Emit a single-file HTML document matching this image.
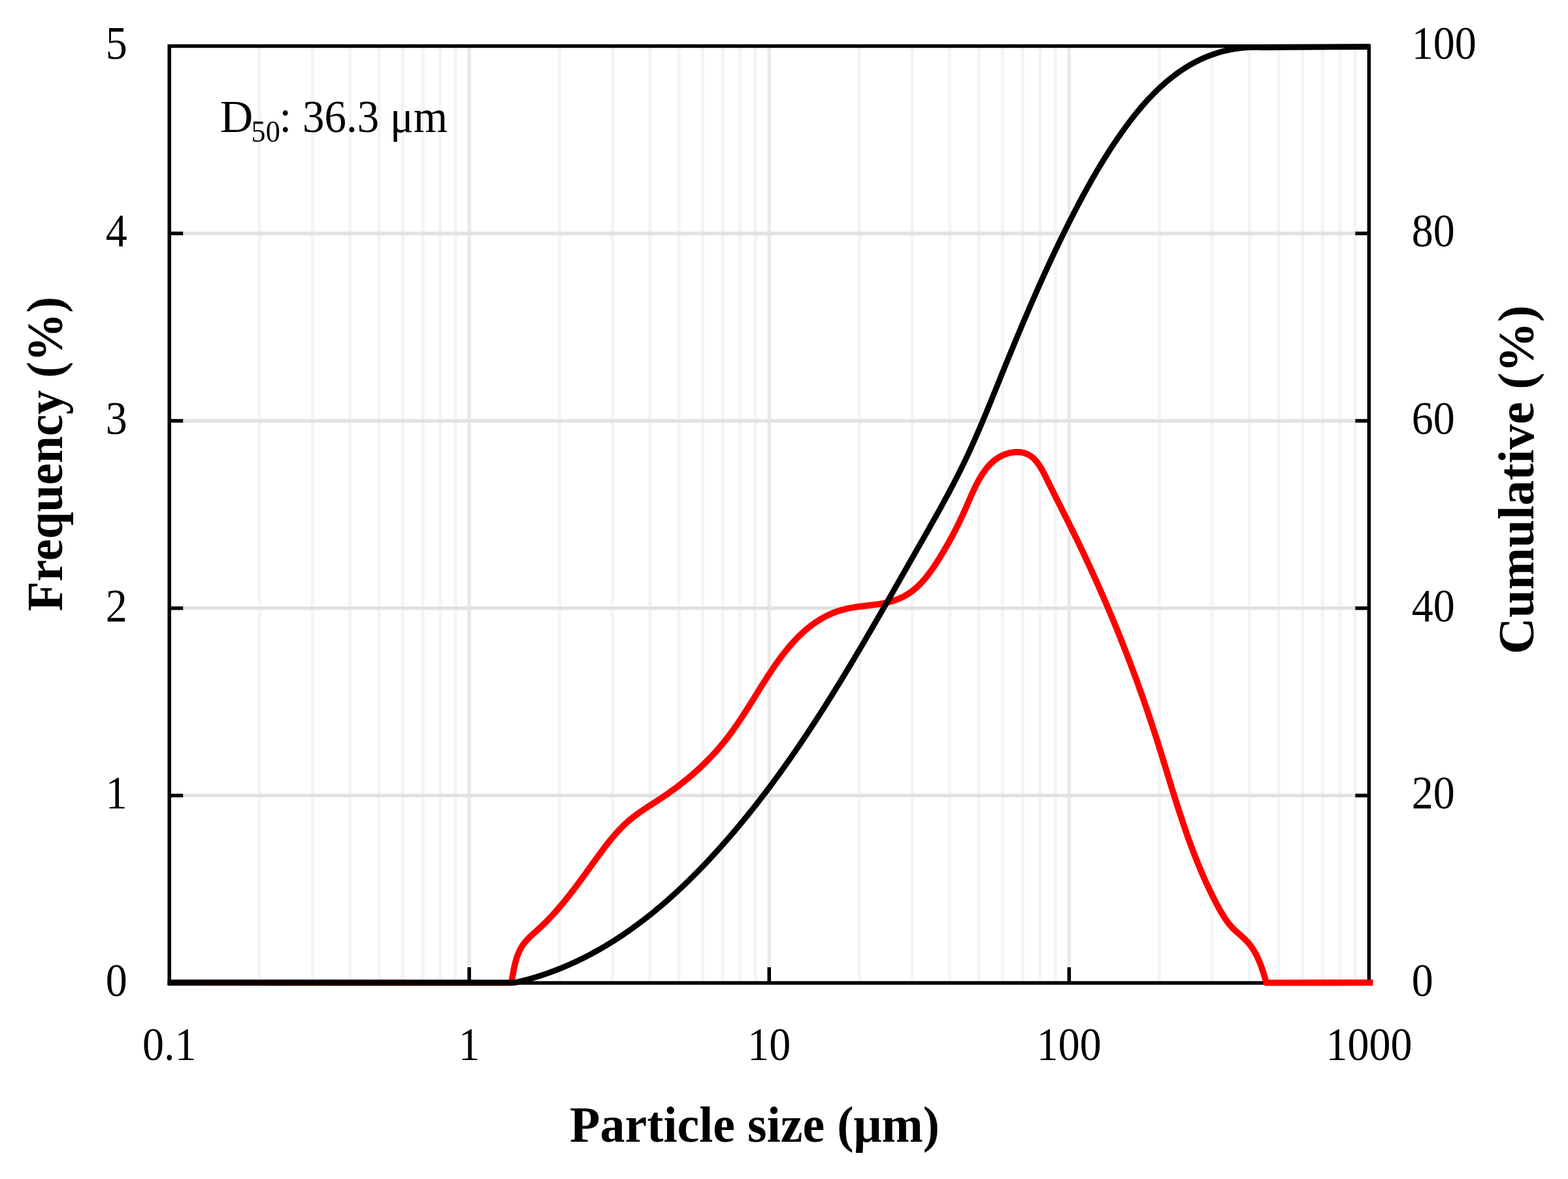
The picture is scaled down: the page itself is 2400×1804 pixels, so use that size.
<!DOCTYPE html><html><head><meta charset="utf-8"><title>Particle size distribution</title><style>html,body{margin:0;padding:0;background:#fff;}svg{display:block;}</style></head><body><svg xmlns="http://www.w3.org/2000/svg" width="2400" height="1804" viewBox="0 0 2400 1804" font-family="'Liberation Serif', serif" fill="#000"><rect x="0" y="0" width="2400" height="1804" fill="#ffffff"/>
<line x1="397.4" y1="70.5" x2="397.4" y2="1504.0" stroke="#f4f4f4" stroke-width="5"/>
<line x1="478.2" y1="70.5" x2="478.2" y2="1504.0" stroke="#f4f4f4" stroke-width="5"/>
<line x1="535.6" y1="70.5" x2="535.6" y2="1504.0" stroke="#f4f4f4" stroke-width="5"/>
<line x1="580.1" y1="70.5" x2="580.1" y2="1504.0" stroke="#f4f4f4" stroke-width="5"/>
<line x1="616.4" y1="70.5" x2="616.4" y2="1504.0" stroke="#f4f4f4" stroke-width="5"/>
<line x1="647.1" y1="70.5" x2="647.1" y2="1504.0" stroke="#f4f4f4" stroke-width="5"/>
<line x1="673.8" y1="70.5" x2="673.8" y2="1504.0" stroke="#f4f4f4" stroke-width="5"/>
<line x1="697.2" y1="70.5" x2="697.2" y2="1504.0" stroke="#f4f4f4" stroke-width="5"/>
<line x1="856.4" y1="70.5" x2="856.4" y2="1504.0" stroke="#f4f4f4" stroke-width="5"/>
<line x1="937.3" y1="70.5" x2="937.3" y2="1504.0" stroke="#f4f4f4" stroke-width="5"/>
<line x1="994.6" y1="70.5" x2="994.6" y2="1504.0" stroke="#f4f4f4" stroke-width="5"/>
<line x1="1039.1" y1="70.5" x2="1039.1" y2="1504.0" stroke="#f4f4f4" stroke-width="5"/>
<line x1="1075.5" y1="70.5" x2="1075.5" y2="1504.0" stroke="#f4f4f4" stroke-width="5"/>
<line x1="1106.2" y1="70.5" x2="1106.2" y2="1504.0" stroke="#f4f4f4" stroke-width="5"/>
<line x1="1132.8" y1="70.5" x2="1132.8" y2="1504.0" stroke="#f4f4f4" stroke-width="5"/>
<line x1="1156.3" y1="70.5" x2="1156.3" y2="1504.0" stroke="#f4f4f4" stroke-width="5"/>
<line x1="1315.5" y1="70.5" x2="1315.5" y2="1504.0" stroke="#f4f4f4" stroke-width="5"/>
<line x1="1396.3" y1="70.5" x2="1396.3" y2="1504.0" stroke="#f4f4f4" stroke-width="5"/>
<line x1="1453.7" y1="70.5" x2="1453.7" y2="1504.0" stroke="#f4f4f4" stroke-width="5"/>
<line x1="1498.2" y1="70.5" x2="1498.2" y2="1504.0" stroke="#f4f4f4" stroke-width="5"/>
<line x1="1534.5" y1="70.5" x2="1534.5" y2="1504.0" stroke="#f4f4f4" stroke-width="5"/>
<line x1="1565.2" y1="70.5" x2="1565.2" y2="1504.0" stroke="#f4f4f4" stroke-width="5"/>
<line x1="1591.9" y1="70.5" x2="1591.9" y2="1504.0" stroke="#f4f4f4" stroke-width="5"/>
<line x1="1615.3" y1="70.5" x2="1615.3" y2="1504.0" stroke="#f4f4f4" stroke-width="5"/>
<line x1="1774.5" y1="70.5" x2="1774.5" y2="1504.0" stroke="#f4f4f4" stroke-width="5"/>
<line x1="1855.4" y1="70.5" x2="1855.4" y2="1504.0" stroke="#f4f4f4" stroke-width="5"/>
<line x1="1912.7" y1="70.5" x2="1912.7" y2="1504.0" stroke="#f4f4f4" stroke-width="5"/>
<line x1="1957.2" y1="70.5" x2="1957.2" y2="1504.0" stroke="#f4f4f4" stroke-width="5"/>
<line x1="1993.6" y1="70.5" x2="1993.6" y2="1504.0" stroke="#f4f4f4" stroke-width="5"/>
<line x1="2024.3" y1="70.5" x2="2024.3" y2="1504.0" stroke="#f4f4f4" stroke-width="5"/>
<line x1="2050.9" y1="70.5" x2="2050.9" y2="1504.0" stroke="#f4f4f4" stroke-width="5"/>
<line x1="2074.4" y1="70.5" x2="2074.4" y2="1504.0" stroke="#f4f4f4" stroke-width="5"/>
<line x1="718.2" y1="70.5" x2="718.2" y2="1504.0" stroke="#e9e9e9" stroke-width="5.5"/>
<line x1="1177.3" y1="70.5" x2="1177.3" y2="1504.0" stroke="#e9e9e9" stroke-width="5.5"/>
<line x1="1636.4" y1="70.5" x2="1636.4" y2="1504.0" stroke="#e9e9e9" stroke-width="5.5"/>
<line x1="259.2" y1="1217.3" x2="2095.4" y2="1217.3" stroke="#e2e2e2" stroke-width="5.5"/>
<line x1="259.2" y1="930.6" x2="2095.4" y2="930.6" stroke="#e2e2e2" stroke-width="5.5"/>
<line x1="259.2" y1="643.9" x2="2095.4" y2="643.9" stroke="#e2e2e2" stroke-width="5.5"/>
<line x1="259.2" y1="357.2" x2="2095.4" y2="357.2" stroke="#e2e2e2" stroke-width="5.5"/>
<rect x="259.2" y="70.5" width="1836.2" height="1433.5" fill="none" stroke="#000" stroke-width="5.5"/>
<line x1="259.2" y1="1217.3" x2="280.2" y2="1217.3" stroke="#000" stroke-width="5.5"/>
<line x1="2074.4" y1="1217.3" x2="2095.4" y2="1217.3" stroke="#000" stroke-width="5.5"/>
<line x1="259.2" y1="930.6" x2="280.2" y2="930.6" stroke="#000" stroke-width="5.5"/>
<line x1="2074.4" y1="930.6" x2="2095.4" y2="930.6" stroke="#000" stroke-width="5.5"/>
<line x1="259.2" y1="643.9" x2="280.2" y2="643.9" stroke="#000" stroke-width="5.5"/>
<line x1="2074.4" y1="643.9" x2="2095.4" y2="643.9" stroke="#000" stroke-width="5.5"/>
<line x1="259.2" y1="357.2" x2="280.2" y2="357.2" stroke="#000" stroke-width="5.5"/>
<line x1="2074.4" y1="357.2" x2="2095.4" y2="357.2" stroke="#000" stroke-width="5.5"/>
<line x1="718.2" y1="1480.0" x2="718.2" y2="1504.0" stroke="#000" stroke-width="5.5"/>
<line x1="1177.3" y1="1480.0" x2="1177.3" y2="1504.0" stroke="#000" stroke-width="5.5"/>
<line x1="1636.4" y1="1480.0" x2="1636.4" y2="1504.0" stroke="#000" stroke-width="5.5"/>
<path d="M257.0,1503.5 L783.0,1503.8 L783.3,1501.8 L783.6,1499.9 L783.9,1497.9 L784.2,1495.8 L784.5,1493.8 L784.9,1491.8 L785.2,1489.8 L785.6,1487.7 L785.9,1485.7 L786.3,1483.7 L786.7,1481.7 L787.2,1479.6 L787.6,1477.6 L788.1,1475.6 L788.6,1473.6 L789.1,1471.6 L789.7,1469.6 L790.2,1467.7 L790.8,1465.7 L791.5,1463.8 L792.2,1461.9 L792.9,1460.0 L793.7,1458.2 L794.5,1456.4 L795.3,1454.6 L796.2,1452.8 L797.1,1451.1 L798.1,1449.4 L799.1,1447.7 L800.2,1446.1 L801.3,1444.5 L802.5,1443.0 L803.7,1441.5 L805.0,1440.0 L806.3,1438.6 L807.6,1437.1 L808.9,1435.7 L810.3,1434.3 L811.7,1433.0 L813.2,1431.6 L814.6,1430.3 L816.1,1428.9 L817.5,1427.6 L819.0,1426.3 L820.5,1425.0 L822.0,1423.6 L823.4,1422.3 L824.9,1421.0 L826.4,1419.6 L827.8,1418.3 L829.3,1416.9 L830.7,1415.5 L832.1,1414.2 L833.6,1412.8 L835.0,1411.4 L836.4,1410.0 L837.8,1408.5 L839.2,1407.1 L840.5,1405.7 L841.9,1404.3 L843.3,1402.8 L844.6,1401.4 L846.0,1399.9 L847.3,1398.4 L848.7,1396.9 L850.0,1395.5 L851.3,1394.0 L852.6,1392.5 L853.9,1391.0 L855.2,1389.5 L856.5,1388.0 L857.8,1386.4 L859.1,1384.9 L860.4,1383.4 L861.7,1381.8 L863.0,1380.3 L864.2,1378.8 L865.5,1377.2 L866.7,1375.7 L868.0,1374.1 L869.2,1372.5 L870.5,1371.0 L871.7,1369.4 L872.9,1367.8 L874.2,1366.2 L875.4,1364.6 L876.6,1363.1 L877.8,1361.5 L879.1,1359.9 L880.3,1358.3 L881.5,1356.7 L882.7,1355.1 L883.9,1353.5 L885.1,1351.8 L886.3,1350.2 L887.5,1348.6 L888.7,1347.0 L889.9,1345.4 L891.0,1343.8 L892.2,1342.2 L893.4,1340.5 L894.6,1338.9 L895.8,1337.3 L897.0,1335.7 L898.1,1334.0 L899.3,1332.4 L900.5,1330.8 L901.7,1329.2 L902.8,1327.5 L904.0,1325.9 L905.2,1324.3 L906.3,1322.7 L907.5,1321.0 L908.7,1319.4 L909.9,1317.8 L911.0,1316.2 L912.2,1314.6 L913.4,1312.9 L914.6,1311.3 L915.7,1309.7 L916.9,1308.1 L918.1,1306.5 L919.3,1304.9 L920.5,1303.3 L921.7,1301.7 L922.8,1300.1 L924.0,1298.5 L925.2,1296.9 L926.4,1295.3 L927.7,1293.7 L928.9,1292.2 L930.1,1290.6 L931.3,1289.0 L932.6,1287.5 L933.8,1285.9 L935.1,1284.4 L936.3,1282.9 L937.6,1281.4 L938.9,1279.8 L940.2,1278.3 L941.5,1276.8 L942.8,1275.4 L944.1,1273.9 L945.4,1272.4 L946.8,1271.0 L948.1,1269.5 L949.5,1268.1 L950.9,1266.7 L952.3,1265.3 L953.7,1263.9 L955.1,1262.5 L956.5,1261.1 L958.0,1259.8 L959.4,1258.5 L960.9,1257.1 L962.4,1255.8 L963.9,1254.5 L965.5,1253.3 L967.0,1252.0 L968.6,1250.7 L970.2,1249.5 L971.8,1248.3 L973.4,1247.1 L975.0,1245.9 L976.7,1244.7 L978.3,1243.5 L980.0,1242.4 L981.7,1241.2 L983.3,1240.1 L985.0,1238.9 L986.7,1237.8 L988.4,1236.7 L990.1,1235.6 L991.8,1234.4 L993.5,1233.3 L995.2,1232.2 L997.0,1231.1 L998.7,1230.0 L1000.4,1228.9 L1002.1,1227.8 L1003.8,1226.7 L1005.5,1225.6 L1007.2,1224.5 L1008.9,1223.4 L1010.6,1222.3 L1012.3,1221.1 L1014.0,1220.0 L1015.6,1218.9 L1017.3,1217.8 L1018.9,1216.6 L1020.6,1215.5 L1022.2,1214.3 L1023.9,1213.2 L1025.5,1212.0 L1027.1,1210.9 L1028.7,1209.7 L1030.3,1208.5 L1031.9,1207.4 L1033.5,1206.2 L1035.1,1205.0 L1036.7,1203.8 L1038.3,1202.6 L1039.8,1201.4 L1041.4,1200.2 L1043.0,1199.0 L1044.5,1197.8 L1046.0,1196.6 L1047.6,1195.3 L1049.1,1194.1 L1050.6,1192.9 L1052.1,1191.6 L1053.7,1190.4 L1055.2,1189.1 L1056.7,1187.8 L1058.1,1186.6 L1059.6,1185.3 L1061.1,1184.0 L1062.6,1182.7 L1064.0,1181.4 L1065.5,1180.1 L1066.9,1178.8 L1068.4,1177.5 L1069.8,1176.2 L1071.2,1174.9 L1072.7,1173.5 L1074.1,1172.2 L1075.5,1170.8 L1076.9,1169.5 L1078.3,1168.1 L1079.7,1166.8 L1081.1,1165.4 L1082.4,1164.0 L1083.8,1162.6 L1085.2,1161.2 L1086.5,1159.8 L1087.9,1158.4 L1089.2,1157.0 L1090.6,1155.6 L1091.9,1154.1 L1093.2,1152.7 L1094.6,1151.2 L1095.9,1149.8 L1097.2,1148.3 L1098.5,1146.8 L1099.8,1145.3 L1101.1,1143.8 L1102.4,1142.4 L1103.6,1140.8 L1104.9,1139.3 L1106.2,1137.8 L1107.4,1136.3 L1108.7,1134.7 L1109.9,1133.2 L1111.2,1131.6 L1112.4,1130.1 L1113.6,1128.5 L1114.8,1126.9 L1116.0,1125.3 L1117.2,1123.7 L1118.4,1122.1 L1119.6,1120.5 L1120.8,1118.8 L1122.0,1117.2 L1123.2,1115.5 L1124.4,1113.9 L1125.5,1112.2 L1126.7,1110.6 L1127.9,1108.9 L1129.0,1107.2 L1130.2,1105.5 L1131.3,1103.8 L1132.4,1102.1 L1133.6,1100.4 L1134.7,1098.7 L1135.8,1097.0 L1137.0,1095.3 L1138.1,1093.5 L1139.2,1091.8 L1140.3,1090.1 L1141.4,1088.3 L1142.5,1086.6 L1143.7,1084.9 L1144.8,1083.1 L1145.9,1081.4 L1147.0,1079.6 L1148.1,1077.9 L1149.2,1076.1 L1150.3,1074.3 L1151.4,1072.6 L1152.5,1070.8 L1153.6,1069.1 L1154.7,1067.3 L1155.8,1065.5 L1156.9,1063.8 L1158.0,1062.0 L1159.1,1060.2 L1160.2,1058.5 L1161.2,1056.7 L1162.3,1055.0 L1163.4,1053.2 L1164.5,1051.4 L1165.6,1049.7 L1166.8,1047.9 L1167.9,1046.2 L1169.0,1044.4 L1170.1,1042.7 L1171.2,1041.0 L1172.3,1039.2 L1173.4,1037.5 L1174.5,1035.7 L1175.6,1034.0 L1176.8,1032.3 L1177.9,1030.6 L1179.0,1028.9 L1180.2,1027.2 L1181.3,1025.5 L1182.4,1023.8 L1183.6,1022.1 L1184.7,1020.4 L1185.9,1018.7 L1187.1,1017.1 L1188.2,1015.4 L1189.4,1013.7 L1190.6,1012.1 L1191.7,1010.4 L1192.9,1008.8 L1194.1,1007.2 L1195.3,1005.6 L1196.5,1004.0 L1197.7,1002.4 L1198.9,1000.8 L1200.2,999.2 L1201.4,997.7 L1202.6,996.1 L1203.9,994.6 L1205.1,993.0 L1206.4,991.5 L1207.7,990.0 L1208.9,988.5 L1210.2,987.0 L1211.5,985.5 L1212.8,984.0 L1214.1,982.6 L1215.4,981.2 L1216.7,979.7 L1218.1,978.3 L1219.4,976.9 L1220.8,975.5 L1222.1,974.2 L1223.5,972.8 L1224.9,971.5 L1226.3,970.1 L1227.7,968.8 L1229.1,967.5 L1230.5,966.2 L1232.0,965.0 L1233.4,963.7 L1234.9,962.5 L1236.3,961.3 L1237.8,960.1 L1239.3,958.9 L1240.8,957.7 L1242.3,956.6 L1243.8,955.5 L1245.4,954.4 L1246.9,953.3 L1248.5,952.2 L1250.1,951.1 L1251.7,950.1 L1253.3,949.1 L1254.9,948.1 L1256.5,947.1 L1258.2,946.2 L1259.8,945.2 L1261.5,944.3 L1263.2,943.4 L1264.9,942.6 L1266.6,941.7 L1268.4,940.9 L1270.1,940.1 L1271.9,939.3 L1273.6,938.5 L1275.4,937.8 L1277.3,937.1 L1279.1,936.4 L1280.9,935.7 L1282.8,935.1 L1284.7,934.5 L1286.6,933.9 L1288.5,933.3 L1290.4,932.8 L1292.3,932.3 L1294.3,931.8 L1296.3,931.3 L1298.3,930.9 L1300.3,930.5 L1302.3,930.1 L1304.4,929.7 L1306.4,929.4 L1308.5,929.0 L1310.6,928.7 L1312.7,928.4 L1314.8,928.1 L1316.9,927.9 L1319.0,927.6 L1321.1,927.4 L1323.2,927.1 L1325.4,926.9 L1327.5,926.6 L1329.6,926.4 L1331.7,926.1 L1333.8,925.9 L1336.0,925.6 L1338.1,925.3 L1340.1,925.1 L1342.2,924.8 L1344.3,924.5 L1346.4,924.2 L1348.4,923.8 L1350.4,923.5 L1352.4,923.1 L1354.4,922.7 L1356.4,922.3 L1358.4,921.8 L1360.3,921.3 L1362.2,920.8 L1364.1,920.3 L1366.0,919.7 L1367.8,919.1 L1369.7,918.5 L1371.5,917.8 L1373.3,917.1 L1375.1,916.4 L1376.8,915.7 L1378.5,914.9 L1380.3,914.1 L1382.0,913.3 L1383.7,912.4 L1385.3,911.5 L1387.0,910.5 L1388.6,909.6 L1390.2,908.6 L1391.8,907.5 L1393.4,906.4 L1394.9,905.3 L1396.5,904.2 L1398.0,903.0 L1399.5,901.8 L1401.0,900.5 L1402.4,899.3 L1403.9,897.9 L1405.3,896.6 L1406.8,895.2 L1408.2,893.8 L1409.6,892.3 L1410.9,890.9 L1412.3,889.4 L1413.6,887.9 L1415.0,886.3 L1416.3,884.8 L1417.6,883.2 L1418.9,881.6 L1420.1,880.0 L1421.4,878.3 L1422.6,876.7 L1423.9,875.0 L1425.1,873.3 L1426.3,871.7 L1427.5,870.0 L1428.7,868.2 L1429.8,866.5 L1431.0,864.8 L1432.1,863.1 L1433.3,861.4 L1434.4,859.6 L1435.5,857.9 L1436.6,856.1 L1437.7,854.4 L1438.7,852.7 L1439.8,851.0 L1440.9,849.2 L1441.9,847.5 L1442.9,845.8 L1444.0,844.1 L1445.0,842.4 L1446.0,840.7 L1447.0,839.0 L1447.9,837.3 L1448.9,835.6 L1449.9,833.9 L1450.8,832.2 L1451.8,830.6 L1452.7,828.9 L1453.7,827.2 L1454.6,825.5 L1455.5,823.8 L1456.5,822.1 L1457.4,820.4 L1458.3,818.7 L1459.2,817.0 L1460.1,815.3 L1460.9,813.6 L1461.8,811.9 L1462.7,810.2 L1463.6,808.5 L1464.4,806.8 L1465.3,805.0 L1466.2,803.3 L1467.0,801.6 L1467.9,799.8 L1468.7,798.0 L1469.6,796.3 L1470.4,794.5 L1471.3,792.7 L1472.1,790.9 L1472.9,789.1 L1473.8,787.3 L1474.6,785.5 L1475.4,783.6 L1476.3,781.8 L1477.1,779.9 L1477.9,778.1 L1478.8,776.2 L1479.6,774.3 L1480.4,772.4 L1481.3,770.4 L1482.1,768.5 L1482.9,766.6 L1483.8,764.6 L1484.6,762.7 L1485.5,760.7 L1486.3,758.8 L1487.2,756.8 L1488.1,754.9 L1489.0,753.0 L1489.9,751.0 L1490.8,749.1 L1491.7,747.2 L1492.6,745.2 L1493.6,743.3 L1494.5,741.4 L1495.5,739.6 L1496.5,737.7 L1497.5,735.8 L1498.5,734.0 L1499.5,732.2 L1500.6,730.4 L1501.7,728.6 L1502.7,726.9 L1503.9,725.2 L1505.0,723.5 L1506.1,721.8 L1507.3,720.2 L1508.5,718.6 L1509.7,717.0 L1511.0,715.4 L1512.3,713.9 L1513.6,712.5 L1514.9,711.0 L1516.3,709.6 L1517.6,708.3 L1519.1,707.0 L1520.5,705.7 L1522.0,704.5 L1523.5,703.3 L1525.0,702.2 L1526.6,701.1 L1528.2,700.1 L1529.9,699.1 L1531.5,698.2 L1533.3,697.3 L1535.0,696.5 L1536.8,695.7 L1538.6,695.0 L1540.5,694.4 L1542.4,693.8 L1544.3,693.3 L1546.2,692.9 L1548.2,692.5 L1550.1,692.2 L1552.1,692.0 L1554.1,691.8 L1556.0,691.8 L1558.0,691.8 L1559.9,691.9 L1561.8,692.0 L1563.7,692.3 L1565.5,692.6 L1567.3,693.0 L1569.1,693.6 L1570.8,694.2 L1572.5,694.9 L1574.1,695.7 L1575.7,696.6 L1577.2,697.5 L1578.7,698.6 L1580.1,699.7 L1581.5,700.9 L1582.8,702.2 L1584.1,703.6 L1585.4,705.0 L1586.7,706.5 L1587.8,708.0 L1589.0,709.6 L1590.2,711.2 L1591.3,712.9 L1592.4,714.6 L1593.4,716.3 L1594.5,718.1 L1595.5,719.9 L1596.5,721.8 L1597.5,723.6 L1598.4,725.5 L1599.4,727.4 L1600.4,729.3 L1601.3,731.2 L1602.3,733.1 L1603.2,735.0 L1604.1,736.9 L1605.1,738.8 L1606.0,740.7 L1606.9,742.6 L1607.9,744.5 L1608.8,746.3 L1609.7,748.2 L1610.6,750.1 L1611.6,751.9 L1612.5,753.8 L1613.4,755.6 L1614.3,757.5 L1615.3,759.3 L1616.2,761.1 L1617.1,763.0 L1618.0,764.8 L1618.9,766.6 L1619.8,768.4 L1620.7,770.2 L1621.7,772.1 L1622.6,773.9 L1623.5,775.7 L1624.4,777.5 L1625.3,779.3 L1626.2,781.1 L1627.1,782.9 L1628.0,784.7 L1628.9,786.5 L1629.8,788.2 L1630.7,790.0 L1631.6,791.8 L1632.5,793.6 L1633.4,795.4 L1634.3,797.2 L1635.2,799.0 L1636.0,800.7 L1636.9,802.5 L1637.8,804.3 L1638.7,806.1 L1639.6,807.9 L1640.5,809.7 L1641.4,811.4 L1642.2,813.2 L1643.1,815.0 L1644.0,816.8 L1644.9,818.6 L1645.7,820.3 L1646.6,822.1 L1647.5,823.9 L1648.3,825.7 L1649.2,827.5 L1650.1,829.3 L1650.9,831.1 L1651.8,832.9 L1652.7,834.7 L1653.5,836.5 L1654.4,838.2 L1655.2,840.0 L1656.1,841.8 L1657.0,843.6 L1657.8,845.4 L1658.7,847.2 L1659.5,849.0 L1660.4,850.8 L1661.2,852.6 L1662.1,854.4 L1662.9,856.2 L1663.7,858.0 L1664.6,859.8 L1665.4,861.6 L1666.3,863.5 L1667.1,865.3 L1667.9,867.1 L1668.8,868.9 L1669.6,870.7 L1670.4,872.5 L1671.3,874.3 L1672.1,876.1 L1672.9,877.9 L1673.7,879.8 L1674.6,881.6 L1675.4,883.4 L1676.2,885.2 L1677.0,887.0 L1677.8,888.8 L1678.6,890.7 L1679.5,892.5 L1680.3,894.3 L1681.1,896.1 L1681.9,897.9 L1682.7,899.8 L1683.5,901.6 L1684.3,903.4 L1685.1,905.2 L1685.9,907.1 L1686.7,908.9 L1687.5,910.7 L1688.3,912.6 L1689.1,914.4 L1689.9,916.2 L1690.7,918.0 L1691.5,919.9 L1692.3,921.7 L1693.1,923.5 L1693.9,925.4 L1694.6,927.2 L1695.4,929.1 L1696.2,930.9 L1697.0,932.7 L1697.8,934.6 L1698.5,936.4 L1699.3,938.2 L1700.1,940.1 L1700.9,941.9 L1701.6,943.8 L1702.4,945.6 L1703.2,947.5 L1703.9,949.3 L1704.7,951.2 L1705.5,953.0 L1706.2,954.8 L1707.0,956.7 L1707.8,958.5 L1708.5,960.4 L1709.3,962.2 L1710.0,964.1 L1710.8,966.0 L1711.5,967.8 L1712.3,969.7 L1713.0,971.5 L1713.8,973.4 L1714.5,975.2 L1715.3,977.1 L1716.0,978.9 L1716.7,980.8 L1717.5,982.7 L1718.2,984.5 L1718.9,986.4 L1719.7,988.2 L1720.4,990.1 L1721.1,992.0 L1721.9,993.8 L1722.6,995.7 L1723.3,997.6 L1724.0,999.4 L1724.8,1001.3 L1725.5,1003.2 L1726.2,1005.0 L1726.9,1006.9 L1727.6,1008.8 L1728.4,1010.6 L1729.1,1012.5 L1729.8,1014.4 L1730.5,1016.3 L1731.2,1018.1 L1731.9,1020.0 L1732.6,1021.9 L1733.3,1023.8 L1734.0,1025.6 L1734.7,1027.5 L1735.4,1029.4 L1736.1,1031.3 L1736.8,1033.1 L1737.5,1035.0 L1738.2,1036.9 L1738.9,1038.8 L1739.6,1040.7 L1740.3,1042.5 L1740.9,1044.4 L1741.6,1046.3 L1742.3,1048.2 L1743.0,1050.1 L1743.7,1052.0 L1744.3,1053.9 L1745.0,1055.7 L1745.7,1057.6 L1746.4,1059.5 L1747.0,1061.4 L1747.7,1063.3 L1748.4,1065.2 L1749.0,1067.1 L1749.7,1069.0 L1750.4,1070.9 L1751.0,1072.8 L1751.7,1074.6 L1752.3,1076.5 L1753.0,1078.4 L1753.7,1080.3 L1754.3,1082.2 L1755.0,1084.1 L1755.6,1086.0 L1756.3,1087.9 L1756.9,1089.8 L1757.5,1091.7 L1758.2,1093.6 L1758.8,1095.5 L1759.5,1097.4 L1760.1,1099.3 L1760.7,1101.2 L1761.4,1103.1 L1762.0,1105.0 L1762.6,1106.9 L1763.3,1108.9 L1763.9,1110.8 L1764.5,1112.7 L1765.1,1114.6 L1765.8,1116.5 L1766.4,1118.4 L1767.0,1120.3 L1767.6,1122.2 L1768.2,1124.1 L1768.9,1126.0 L1769.5,1127.9 L1770.1,1129.9 L1770.7,1131.8 L1771.3,1133.7 L1771.9,1135.6 L1772.5,1137.5 L1773.1,1139.4 L1773.7,1141.3 L1774.3,1143.3 L1774.9,1145.2 L1775.5,1147.1 L1776.1,1149.0 L1776.7,1150.9 L1777.3,1152.8 L1777.9,1154.8 L1778.5,1156.7 L1779.1,1158.6 L1779.7,1160.5 L1780.3,1162.4 L1780.9,1164.3 L1781.4,1166.3 L1782.0,1168.2 L1782.6,1170.1 L1783.2,1172.0 L1783.8,1173.9 L1784.4,1175.9 L1785.0,1177.8 L1785.6,1179.7 L1786.2,1181.6 L1786.7,1183.5 L1787.3,1185.5 L1787.9,1187.4 L1788.5,1189.3 L1789.1,1191.2 L1789.7,1193.1 L1790.3,1195.0 L1790.9,1197.0 L1791.5,1198.9 L1792.1,1200.8 L1792.6,1202.7 L1793.2,1204.6 L1793.8,1206.5 L1794.4,1208.5 L1795.0,1210.4 L1795.6,1212.3 L1796.2,1214.2 L1796.8,1216.1 L1797.4,1218.0 L1798.0,1219.9 L1798.6,1221.9 L1799.2,1223.8 L1799.8,1225.7 L1800.4,1227.6 L1801.0,1229.5 L1801.6,1231.4 L1802.3,1233.3 L1802.9,1235.2 L1803.5,1237.1 L1804.1,1239.0 L1804.7,1240.9 L1805.3,1242.8 L1806.0,1244.7 L1806.6,1246.6 L1807.2,1248.5 L1807.8,1250.4 L1808.5,1252.3 L1809.1,1254.2 L1809.7,1256.1 L1810.4,1258.0 L1811.0,1259.9 L1811.6,1261.8 L1812.3,1263.7 L1812.9,1265.6 L1813.6,1267.5 L1814.2,1269.4 L1814.9,1271.3 L1815.5,1273.2 L1816.2,1275.1 L1816.9,1276.9 L1817.5,1278.8 L1818.2,1280.7 L1818.9,1282.6 L1819.5,1284.5 L1820.2,1286.3 L1820.9,1288.2 L1821.6,1290.1 L1822.3,1292.0 L1823.0,1293.8 L1823.6,1295.7 L1824.3,1297.6 L1825.0,1299.4 L1825.8,1301.3 L1826.5,1303.2 L1827.2,1305.0 L1827.9,1306.9 L1828.6,1308.8 L1829.3,1310.6 L1830.1,1312.5 L1830.8,1314.3 L1831.5,1316.2 L1832.3,1318.0 L1833.0,1319.9 L1833.8,1321.7 L1834.5,1323.6 L1835.3,1325.4 L1836.1,1327.2 L1836.8,1329.1 L1837.6,1330.9 L1838.4,1332.8 L1839.2,1334.6 L1839.9,1336.4 L1840.7,1338.3 L1841.5,1340.1 L1842.3,1341.9 L1843.1,1343.7 L1843.9,1345.5 L1844.8,1347.4 L1845.6,1349.2 L1846.4,1351.0 L1847.2,1352.8 L1848.1,1354.6 L1848.9,1356.4 L1849.8,1358.2 L1850.6,1360.0 L1851.5,1361.8 L1852.4,1363.6 L1853.2,1365.4 L1854.1,1367.2 L1855.0,1369.0 L1855.9,1370.8 L1856.8,1372.6 L1857.7,1374.4 L1858.6,1376.1 L1859.5,1377.9 L1860.4,1379.7 L1861.3,1381.5 L1862.3,1383.2 L1863.2,1385.0 L1864.2,1386.8 L1865.1,1388.5 L1866.1,1390.3 L1867.0,1392.0 L1868.0,1393.8 L1869.0,1395.5 L1870.0,1397.2 L1871.1,1398.9 L1872.1,1400.6 L1873.1,1402.3 L1874.2,1404.0 L1875.3,1405.6 L1876.4,1407.3 L1877.6,1408.9 L1878.7,1410.5 L1879.9,1412.0 L1881.1,1413.6 L1882.4,1415.1 L1883.6,1416.6 L1884.9,1418.0 L1886.3,1419.5 L1887.6,1420.9 L1889.0,1422.2 L1890.4,1423.6 L1891.9,1424.9 L1893.3,1426.2 L1894.8,1427.5 L1896.3,1428.8 L1897.7,1430.1 L1899.2,1431.4 L1900.7,1432.7 L1902.1,1434.0 L1903.5,1435.3 L1905.0,1436.7 L1906.4,1438.0 L1907.7,1439.4 L1909.1,1440.8 L1910.4,1442.3 L1911.6,1443.7 L1912.8,1445.2 L1914.0,1446.8 L1915.2,1448.3 L1916.3,1449.9 L1917.4,1451.6 L1918.4,1453.2 L1919.5,1454.9 L1920.5,1456.6 L1921.4,1458.3 L1922.4,1460.1 L1923.3,1461.8 L1924.2,1463.6 L1925.0,1465.4 L1925.8,1467.3 L1926.7,1469.1 L1927.4,1471.0 L1928.2,1472.8 L1929.0,1474.7 L1929.7,1476.6 L1930.4,1478.5 L1931.1,1480.4 L1931.7,1482.4 L1932.4,1484.3 L1933.0,1486.2 L1933.7,1488.2 L1934.3,1490.1 L1934.9,1492.1 L1935.5,1494.0 L1936.0,1496.0 L1936.6,1497.9 L1937.2,1499.9 L1937.7,1501.8 L1938.3,1503.8 L2101.5,1503.5" fill="none" stroke="#ff0000" stroke-width="9.6" stroke-linejoin="round"/>
<path d="M256.5,1503.5 L788.6,1503.5 L790.6,1503.0 L792.6,1502.5 L794.6,1502.1 L796.6,1501.6 L798.6,1501.1 L800.5,1500.6 L802.5,1500.1 L804.5,1499.6 L806.4,1499.0 L808.4,1498.5 L810.4,1498.0 L812.3,1497.4 L814.3,1496.8 L816.2,1496.3 L818.2,1495.7 L820.1,1495.1 L822.0,1494.5 L824.0,1493.9 L825.9,1493.3 L827.8,1492.7 L829.7,1492.0 L831.6,1491.4 L833.5,1490.8 L835.4,1490.1 L837.3,1489.4 L839.2,1488.8 L841.1,1488.1 L843.0,1487.4 L844.9,1486.7 L846.8,1486.0 L848.7,1485.3 L850.5,1484.6 L852.4,1483.9 L854.3,1483.1 L856.1,1482.4 L858.0,1481.7 L859.8,1480.9 L861.7,1480.1 L863.5,1479.4 L865.4,1478.6 L867.2,1477.8 L869.0,1477.0 L870.9,1476.2 L872.7,1475.4 L874.5,1474.6 L876.3,1473.8 L878.1,1473.0 L879.9,1472.1 L881.8,1471.3 L883.6,1470.4 L885.4,1469.6 L887.1,1468.7 L888.9,1467.8 L890.7,1467.0 L892.5,1466.1 L894.3,1465.2 L896.1,1464.3 L897.8,1463.4 L899.6,1462.5 L901.4,1461.5 L903.1,1460.6 L904.9,1459.7 L906.6,1458.7 L908.4,1457.8 L910.1,1456.8 L911.9,1455.9 L913.6,1454.9 L915.3,1453.9 L917.1,1453.0 L918.8,1452.0 L920.5,1451.0 L922.2,1450.0 L923.9,1449.0 L925.7,1448.0 L927.4,1447.0 L929.1,1445.9 L930.8,1444.9 L932.5,1443.9 L934.2,1442.8 L935.9,1441.8 L937.5,1440.7 L939.2,1439.7 L940.9,1438.6 L942.6,1437.5 L944.2,1436.5 L945.9,1435.4 L947.6,1434.3 L949.2,1433.2 L950.9,1432.1 L952.6,1431.0 L954.2,1429.9 L955.9,1428.8 L957.5,1427.6 L959.1,1426.5 L960.8,1425.4 L962.4,1424.2 L964.0,1423.1 L965.7,1421.9 L967.3,1420.8 L968.9,1419.6 L970.5,1418.5 L972.1,1417.3 L973.7,1416.1 L975.4,1414.9 L977.0,1413.7 L978.6,1412.5 L980.1,1411.3 L981.7,1410.1 L983.3,1408.9 L984.9,1407.7 L986.5,1406.5 L988.1,1405.3 L989.7,1404.1 L991.2,1402.8 L992.8,1401.6 L994.4,1400.3 L995.9,1399.1 L997.5,1397.8 L999.0,1396.6 L1000.6,1395.3 L1002.1,1394.1 L1003.7,1392.8 L1005.2,1391.5 L1006.8,1390.2 L1008.3,1389.0 L1009.8,1387.7 L1011.4,1386.4 L1012.9,1385.1 L1014.4,1383.8 L1015.9,1382.5 L1017.5,1381.2 L1019.0,1379.9 L1020.5,1378.5 L1022.0,1377.2 L1023.5,1375.9 L1025.0,1374.6 L1026.5,1373.2 L1028.0,1371.9 L1029.5,1370.5 L1031.0,1369.2 L1032.4,1367.8 L1033.9,1366.5 L1035.4,1365.1 L1036.9,1363.8 L1038.4,1362.4 L1039.8,1361.0 L1041.3,1359.7 L1042.8,1358.3 L1044.2,1356.9 L1045.7,1355.5 L1047.1,1354.1 L1048.6,1352.8 L1050.0,1351.4 L1051.5,1350.0 L1052.9,1348.6 L1054.4,1347.2 L1055.8,1345.8 L1057.2,1344.3 L1058.7,1342.9 L1060.1,1341.5 L1061.5,1340.1 L1062.9,1338.7 L1064.4,1337.2 L1065.8,1335.8 L1067.2,1334.4 L1068.6,1333.0 L1070.0,1331.5 L1071.4,1330.1 L1072.8,1328.6 L1074.2,1327.2 L1075.6,1325.7 L1077.0,1324.3 L1078.4,1322.8 L1079.8,1321.4 L1081.2,1319.9 L1082.5,1318.4 L1083.9,1317.0 L1085.3,1315.5 L1086.7,1314.0 L1088.0,1312.6 L1089.4,1311.1 L1090.8,1309.6 L1092.1,1308.1 L1093.5,1306.7 L1094.9,1305.2 L1096.2,1303.7 L1097.6,1302.2 L1098.9,1300.7 L1100.3,1299.2 L1101.6,1297.7 L1102.9,1296.2 L1104.3,1294.7 L1105.6,1293.2 L1106.9,1291.7 L1108.3,1290.2 L1109.6,1288.7 L1110.9,1287.2 L1112.2,1285.7 L1113.6,1284.2 L1114.9,1282.6 L1116.2,1281.1 L1117.5,1279.6 L1118.8,1278.1 L1120.1,1276.6 L1121.4,1275.0 L1122.7,1273.5 L1124.0,1272.0 L1125.3,1270.5 L1126.6,1268.9 L1127.9,1267.4 L1129.2,1265.9 L1130.5,1264.3 L1131.8,1262.8 L1133.0,1261.2 L1134.3,1259.7 L1135.6,1258.1 L1136.9,1256.6 L1138.1,1255.1 L1139.4,1253.5 L1140.7,1252.0 L1141.9,1250.4 L1143.2,1248.8 L1144.5,1247.3 L1145.7,1245.7 L1147.0,1244.2 L1148.2,1242.6 L1149.5,1241.1 L1150.7,1239.5 L1152.0,1237.9 L1153.2,1236.4 L1154.4,1234.8 L1155.7,1233.2 L1156.9,1231.6 L1158.2,1230.1 L1159.4,1228.5 L1160.6,1226.9 L1161.8,1225.3 L1163.1,1223.8 L1164.3,1222.2 L1165.5,1220.6 L1166.7,1219.0 L1167.9,1217.4 L1169.2,1215.8 L1170.4,1214.2 L1171.6,1212.7 L1172.8,1211.1 L1174.0,1209.5 L1175.2,1207.9 L1176.4,1206.3 L1177.6,1204.7 L1178.8,1203.1 L1180.0,1201.5 L1181.2,1199.9 L1182.4,1198.3 L1183.6,1196.7 L1184.7,1195.1 L1185.9,1193.4 L1187.1,1191.8 L1188.3,1190.2 L1189.5,1188.6 L1190.6,1187.0 L1191.8,1185.4 L1193.0,1183.8 L1194.2,1182.1 L1195.3,1180.5 L1196.5,1178.9 L1197.7,1177.3 L1198.8,1175.7 L1200.0,1174.0 L1201.1,1172.4 L1202.3,1170.8 L1203.5,1169.2 L1204.6,1167.5 L1205.8,1165.9 L1206.9,1164.3 L1208.1,1162.6 L1209.2,1161.0 L1210.4,1159.4 L1211.5,1157.7 L1212.6,1156.1 L1213.8,1154.4 L1214.9,1152.8 L1216.0,1151.2 L1217.2,1149.5 L1218.3,1147.9 L1219.4,1146.2 L1220.6,1144.6 L1221.7,1142.9 L1222.8,1141.3 L1223.9,1139.6 L1225.1,1138.0 L1226.2,1136.3 L1227.3,1134.7 L1228.4,1133.0 L1229.5,1131.3 L1230.7,1129.7 L1231.8,1128.0 L1232.9,1126.4 L1234.0,1124.7 L1235.1,1123.0 L1236.2,1121.4 L1237.3,1119.7 L1238.4,1118.1 L1239.5,1116.4 L1240.6,1114.7 L1241.7,1113.1 L1242.8,1111.4 L1243.9,1109.7 L1245.0,1108.0 L1246.1,1106.4 L1247.2,1104.7 L1248.3,1103.0 L1249.4,1101.3 L1250.4,1099.7 L1251.5,1098.0 L1252.6,1096.3 L1253.7,1094.6 L1254.8,1092.9 L1255.8,1091.3 L1256.9,1089.6 L1258.0,1087.9 L1259.1,1086.2 L1260.2,1084.5 L1261.2,1082.8 L1262.3,1081.2 L1263.4,1079.5 L1264.4,1077.8 L1265.5,1076.1 L1266.6,1074.4 L1267.6,1072.7 L1268.7,1071.0 L1269.8,1069.3 L1270.8,1067.6 L1271.9,1065.9 L1272.9,1064.2 L1274.0,1062.5 L1275.1,1060.8 L1276.1,1059.1 L1277.2,1057.4 L1278.2,1055.7 L1279.3,1054.0 L1280.3,1052.3 L1281.4,1050.6 L1282.4,1048.9 L1283.5,1047.2 L1284.5,1045.5 L1285.6,1043.8 L1286.6,1042.1 L1287.7,1040.4 L1288.7,1038.7 L1289.7,1037.0 L1290.8,1035.3 L1291.8,1033.6 L1292.9,1031.9 L1293.9,1030.2 L1294.9,1028.4 L1296.0,1026.7 L1297.0,1025.0 L1298.0,1023.3 L1299.1,1021.6 L1300.1,1019.9 L1301.1,1018.2 L1302.2,1016.4 L1303.2,1014.7 L1304.2,1013.0 L1305.2,1011.3 L1306.3,1009.6 L1307.3,1007.9 L1308.3,1006.1 L1309.3,1004.4 L1310.4,1002.7 L1311.4,1001.0 L1312.4,999.3 L1313.4,997.5 L1314.4,995.8 L1315.5,994.1 L1316.5,992.4 L1317.5,990.6 L1318.5,988.9 L1319.5,987.2 L1320.5,985.5 L1321.6,983.7 L1322.6,982.0 L1323.6,980.3 L1324.6,978.6 L1325.6,976.8 L1326.6,975.1 L1327.6,973.4 L1328.6,971.6 L1329.6,969.9 L1330.7,968.2 L1331.7,966.5 L1332.7,964.7 L1333.7,963.0 L1334.7,961.3 L1335.7,959.5 L1336.7,957.8 L1337.7,956.1 L1338.7,954.3 L1339.7,952.6 L1340.7,950.9 L1341.7,949.1 L1342.7,947.4 L1343.7,945.7 L1344.7,943.9 L1345.7,942.2 L1346.7,940.5 L1347.7,938.7 L1348.7,937.0 L1349.7,935.2 L1350.7,933.5 L1351.7,931.8 L1352.7,930.0 L1353.7,928.3 L1354.7,926.6 L1355.7,924.8 L1356.7,923.1 L1357.7,921.4 L1358.7,919.6 L1359.7,917.9 L1360.7,916.1 L1361.7,914.4 L1362.7,912.7 L1363.7,910.9 L1364.7,909.2 L1365.7,907.4 L1366.6,905.7 L1367.6,904.0 L1368.6,902.2 L1369.6,900.5 L1370.6,898.7 L1371.6,897.0 L1372.6,895.3 L1373.6,893.5 L1374.6,891.8 L1375.6,890.0 L1376.6,888.3 L1377.6,886.6 L1378.6,884.8 L1379.5,883.1 L1380.5,881.3 L1381.5,879.6 L1382.5,877.9 L1383.5,876.1 L1384.5,874.4 L1385.5,872.6 L1386.5,870.9 L1387.5,869.2 L1388.5,867.4 L1389.5,865.7 L1390.4,863.9 L1391.4,862.2 L1392.4,860.5 L1393.4,858.7 L1394.4,857.0 L1395.4,855.2 L1396.4,853.5 L1397.4,851.8 L1398.4,850.0 L1399.4,848.3 L1400.4,846.5 L1401.4,844.8 L1402.3,843.1 L1403.3,841.3 L1404.3,839.6 L1405.3,837.8 L1406.3,836.1 L1407.3,834.4 L1408.3,832.6 L1409.3,830.9 L1410.3,829.2 L1411.3,827.4 L1412.3,825.7 L1413.3,823.9 L1414.3,822.2 L1415.2,820.5 L1416.2,818.7 L1417.2,817.0 L1418.2,815.2 L1419.2,813.5 L1420.2,811.8 L1421.2,810.0 L1422.2,808.3 L1423.1,806.5 L1424.1,804.8 L1425.1,803.1 L1426.1,801.3 L1427.1,799.6 L1428.1,797.8 L1429.0,796.1 L1430.0,794.3 L1431.0,792.6 L1432.0,790.9 L1433.0,789.1 L1433.9,787.4 L1434.9,785.6 L1435.9,783.9 L1436.8,782.1 L1437.8,780.4 L1438.8,778.6 L1439.8,776.9 L1440.7,775.1 L1441.7,773.4 L1442.6,771.6 L1443.6,769.9 L1444.6,768.1 L1445.5,766.3 L1446.5,764.6 L1447.4,762.8 L1448.4,761.1 L1449.3,759.3 L1450.3,757.6 L1451.2,755.8 L1452.2,754.0 L1453.1,752.3 L1454.0,750.5 L1455.0,748.7 L1455.9,747.0 L1456.8,745.2 L1457.8,743.4 L1458.7,741.7 L1459.6,739.9 L1460.5,738.1 L1461.4,736.3 L1462.4,734.6 L1463.3,732.8 L1464.2,731.0 L1465.1,729.2 L1466.0,727.4 L1466.9,725.6 L1467.8,723.9 L1468.7,722.1 L1469.6,720.3 L1470.5,718.5 L1471.4,716.7 L1472.2,714.9 L1473.1,713.1 L1474.0,711.3 L1474.9,709.5 L1475.8,707.7 L1476.6,705.9 L1477.5,704.1 L1478.3,702.3 L1479.2,700.5 L1480.1,698.7 L1480.9,696.9 L1481.8,695.1 L1482.6,693.2 L1483.4,691.4 L1484.3,689.6 L1485.1,687.8 L1485.9,686.0 L1486.8,684.1 L1487.6,682.3 L1488.4,680.5 L1489.2,678.7 L1490.1,676.8 L1490.9,675.0 L1491.7,673.2 L1492.5,671.3 L1493.3,669.5 L1494.1,667.7 L1494.9,665.8 L1495.7,664.0 L1496.5,662.2 L1497.3,660.3 L1498.1,658.5 L1498.9,656.6 L1499.7,654.8 L1500.5,653.0 L1501.2,651.1 L1502.0,649.3 L1502.8,647.4 L1503.6,645.6 L1504.4,643.7 L1505.1,641.9 L1505.9,640.0 L1506.7,638.2 L1507.5,636.3 L1508.2,634.5 L1509.0,632.6 L1509.8,630.8 L1510.5,628.9 L1511.3,627.1 L1512.1,625.2 L1512.8,623.4 L1513.6,621.5 L1514.3,619.6 L1515.1,617.8 L1515.9,615.9 L1516.6,614.1 L1517.4,612.2 L1518.1,610.4 L1518.9,608.5 L1519.6,606.7 L1520.4,604.8 L1521.1,602.9 L1521.9,601.1 L1522.7,599.2 L1523.4,597.4 L1524.2,595.5 L1524.9,593.7 L1525.7,591.8 L1526.4,589.9 L1527.2,588.1 L1527.9,586.2 L1528.7,584.4 L1529.4,582.5 L1530.2,580.7 L1530.9,578.8 L1531.7,577.0 L1532.4,575.1 L1533.2,573.2 L1533.9,571.4 L1534.7,569.5 L1535.4,567.7 L1536.2,565.8 L1536.9,564.0 L1537.7,562.1 L1538.4,560.3 L1539.2,558.4 L1539.9,556.6 L1540.7,554.7 L1541.5,552.9 L1542.2,551.0 L1543.0,549.2 L1543.7,547.3 L1544.5,545.5 L1545.2,543.6 L1546.0,541.8 L1546.8,539.9 L1547.5,538.1 L1548.3,536.3 L1549.0,534.4 L1549.8,532.6 L1550.6,530.7 L1551.3,528.9 L1552.1,527.0 L1552.8,525.2 L1553.6,523.4 L1554.4,521.5 L1555.1,519.7 L1555.9,517.8 L1556.7,516.0 L1557.4,514.1 L1558.2,512.3 L1559.0,510.5 L1559.8,508.6 L1560.5,506.8 L1561.3,504.9 L1562.1,503.1 L1562.8,501.3 L1563.6,499.4 L1564.4,497.6 L1565.2,495.8 L1565.9,493.9 L1566.7,492.1 L1567.5,490.3 L1568.3,488.4 L1569.1,486.6 L1569.8,484.8 L1570.6,482.9 L1571.4,481.1 L1572.2,479.3 L1573.0,477.4 L1573.8,475.6 L1574.5,473.8 L1575.3,471.9 L1576.1,470.1 L1576.9,468.3 L1577.7,466.5 L1578.5,464.6 L1579.3,462.8 L1580.1,461.0 L1580.9,459.1 L1581.7,457.3 L1582.5,455.5 L1583.3,453.7 L1584.1,451.8 L1584.9,450.0 L1585.7,448.2 L1586.5,446.4 L1587.3,444.5 L1588.1,442.7 L1588.9,440.9 L1589.7,439.1 L1590.5,437.2 L1591.3,435.4 L1592.2,433.6 L1593.0,431.8 L1593.8,430.0 L1594.6,428.1 L1595.4,426.3 L1596.2,424.5 L1597.1,422.7 L1597.9,420.9 L1598.7,419.1 L1599.5,417.2 L1600.4,415.4 L1601.2,413.6 L1602.0,411.8 L1602.9,410.0 L1603.7,408.2 L1604.5,406.4 L1605.4,404.5 L1606.2,402.7 L1607.1,400.9 L1607.9,399.1 L1608.7,397.3 L1609.6,395.5 L1610.4,393.7 L1611.3,391.9 L1612.1,390.1 L1613.0,388.2 L1613.9,386.4 L1614.7,384.6 L1615.6,382.8 L1616.4,381.0 L1617.3,379.2 L1618.2,377.4 L1619.0,375.6 L1619.9,373.8 L1620.8,372.0 L1621.6,370.2 L1622.5,368.4 L1623.4,366.6 L1624.2,364.8 L1625.1,363.0 L1626.0,361.2 L1626.9,359.4 L1627.8,357.6 L1628.7,355.8 L1629.5,354.0 L1630.4,352.2 L1631.3,350.4 L1632.2,348.6 L1633.1,346.8 L1634.0,345.0 L1634.9,343.2 L1635.8,341.4 L1636.7,339.6 L1637.6,337.8 L1638.5,336.0 L1639.5,334.2 L1640.4,332.4 L1641.3,330.6 L1642.2,328.8 L1643.1,327.0 L1644.1,325.2 L1645.0,323.4 L1645.9,321.6 L1646.8,319.9 L1647.8,318.1 L1648.7,316.3 L1649.6,314.5 L1650.6,312.7 L1651.5,310.9 L1652.5,309.1 L1653.4,307.3 L1654.4,305.6 L1655.3,303.8 L1656.3,302.0 L1657.2,300.2 L1658.2,298.4 L1659.2,296.7 L1660.1,294.9 L1661.1,293.1 L1662.1,291.3 L1663.0,289.6 L1664.0,287.8 L1665.0,286.0 L1666.0,284.3 L1667.0,282.5 L1668.0,280.7 L1668.9,279.0 L1669.9,277.2 L1670.9,275.4 L1671.9,273.7 L1672.9,271.9 L1674.0,270.2 L1675.0,268.4 L1676.0,266.7 L1677.0,264.9 L1678.0,263.2 L1679.0,261.4 L1680.1,259.7 L1681.1,258.0 L1682.1,256.2 L1683.2,254.5 L1684.2,252.8 L1685.3,251.0 L1686.3,249.3 L1687.4,247.6 L1688.4,245.8 L1689.5,244.1 L1690.6,242.4 L1691.6,240.7 L1692.7,239.0 L1693.8,237.3 L1694.9,235.6 L1695.9,233.9 L1697.0,232.2 L1698.1,230.5 L1699.2,228.8 L1700.3,227.1 L1701.4,225.4 L1702.5,223.7 L1703.7,222.0 L1704.8,220.3 L1705.9,218.7 L1707.0,217.0 L1708.1,215.3 L1709.3,213.6 L1710.4,212.0 L1711.6,210.3 L1712.7,208.7 L1713.9,207.0 L1715.0,205.4 L1716.2,203.7 L1717.3,202.1 L1718.5,200.4 L1719.7,198.8 L1720.9,197.2 L1722.1,195.5 L1723.2,193.9 L1724.4,192.3 L1725.6,190.7 L1726.8,189.1 L1728.1,187.5 L1729.3,185.8 L1730.5,184.3 L1731.7,182.7 L1732.9,181.1 L1734.2,179.5 L1735.4,177.9 L1736.7,176.3 L1737.9,174.8 L1739.2,173.2 L1740.4,171.7 L1741.7,170.1 L1743.0,168.6 L1744.3,167.1 L1745.5,165.5 L1746.8,164.0 L1748.1,162.5 L1749.4,161.0 L1750.7,159.5 L1752.1,158.0 L1753.4,156.5 L1754.7,155.0 L1756.0,153.6 L1757.4,152.1 L1758.7,150.7 L1760.1,149.2 L1761.5,147.8 L1762.8,146.4 L1764.2,144.9 L1765.6,143.5 L1767.0,142.1 L1768.4,140.8 L1769.8,139.4 L1771.2,138.0 L1772.6,136.6 L1774.0,135.3 L1775.4,133.9 L1776.9,132.6 L1778.3,131.3 L1779.8,130.0 L1781.3,128.7 L1782.7,127.4 L1784.2,126.1 L1785.7,124.8 L1787.2,123.6 L1788.7,122.3 L1790.2,121.1 L1791.7,119.9 L1793.2,118.7 L1794.8,117.5 L1796.3,116.3 L1797.9,115.1 L1799.4,113.9 L1801.0,112.8 L1802.5,111.6 L1804.1,110.5 L1805.7,109.4 L1807.3,108.3 L1808.9,107.2 L1810.6,106.1 L1812.2,105.1 L1813.8,104.0 L1815.5,103.0 L1817.1,102.0 L1818.8,101.0 L1820.4,100.0 L1822.1,99.0 L1823.8,98.1 L1825.5,97.1 L1827.2,96.2 L1828.9,95.3 L1830.7,94.4 L1832.4,93.5 L1834.1,92.6 L1835.9,91.8 L1837.6,90.9 L1839.4,90.1 L1841.2,89.3 L1843.0,88.5 L1844.8,87.7 L1846.6,87.0 L1848.4,86.2 L1850.3,85.5 L1852.1,84.8 L1853.9,84.1 L1855.8,83.5 L1857.7,82.8 L1859.6,82.2 L1861.4,81.6 L1863.3,81.0 L1865.2,80.4 L1867.2,79.8 L1869.1,79.3 L1871.0,78.8 L1873.0,78.3 L1874.9,77.8 L1876.9,77.3 L1878.9,76.9 L1880.9,76.4 L1882.9,76.0 L1884.9,75.6 L1886.9,75.3 L1889.0,74.9 L1891.0,74.6 L1893.1,74.3 L1895.1,74.0 L1897.2,73.8 L1899.3,73.5 L1901.4,73.3 L1903.5,73.1 L1905.6,72.9 L1907.8,72.8 L1909.9,72.6 L1912.0,72.5 L1914.2,72.4 L1916.4,72.3 L1918.6,72.3 L1920.8,72.3 L1923.0,72.3 L1925.2,72.3 L1927.4,72.4 L1929.7,72.4 L1931.9,72.5 L2097.0,71.5" fill="none" stroke="#000000" stroke-width="8.8" stroke-linejoin="round"/>
<text transform="translate(194.80,1523.90) scale(0.9300,1)" font-size="71" text-anchor="end">0</text>
<text transform="translate(194.80,1237.20) scale(0.9300,1)" font-size="71" text-anchor="end">1</text>
<text transform="translate(194.80,950.50) scale(0.9300,1)" font-size="71" text-anchor="end">2</text>
<text transform="translate(194.80,663.80) scale(0.9300,1)" font-size="71" text-anchor="end">3</text>
<text transform="translate(194.80,377.10) scale(0.9300,1)" font-size="71" text-anchor="end">4</text>
<text transform="translate(194.80,90.40) scale(0.9300,1)" font-size="71" text-anchor="end">5</text>
<text transform="translate(2160.70,1523.90) scale(0.9300,1)" font-size="71" text-anchor="start">0</text>
<text transform="translate(2160.70,1237.20) scale(0.9300,1)" font-size="71" text-anchor="start">20</text>
<text transform="translate(2160.70,950.50) scale(0.9300,1)" font-size="71" text-anchor="start">40</text>
<text transform="translate(2160.70,663.80) scale(0.9300,1)" font-size="71" text-anchor="start">60</text>
<text transform="translate(2160.70,377.10) scale(0.9300,1)" font-size="71" text-anchor="start">80</text>
<text transform="translate(2160.70,90.40) scale(0.9300,1)" font-size="71" text-anchor="start">100</text>
<text transform="translate(259.20,1621.60) scale(0.9300,1)" font-size="71" text-anchor="middle">0.1</text>
<text transform="translate(718.25,1621.60) scale(0.9300,1)" font-size="71" text-anchor="middle">1</text>
<text transform="translate(1177.30,1621.60) scale(0.9300,1)" font-size="71" text-anchor="middle">10</text>
<text transform="translate(1636.35,1621.60) scale(0.9300,1)" font-size="71" text-anchor="middle">100</text>
<text transform="translate(2095.40,1621.60) scale(0.9300,1)" font-size="71" text-anchor="middle">1000</text>
<text transform="translate(95.30,935.27) rotate(-90) scale(0.9490,1)" font-size="78.6" font-weight="bold" text-anchor="start">Frequency (%)</text>
<text transform="translate(2346.60,1001.06) rotate(-90) scale(0.9826,1)" font-size="78.6" font-weight="bold" text-anchor="start">Cumulative (%)</text>
<text transform="translate(872.08,1746.80) scale(0.9665,1)" font-size="78.6" font-weight="bold" text-anchor="start">Particle size (μm)</text>
<text transform="translate(336.80,201.60) scale(1.0000,1)" font-size="70" text-anchor="start">D</text>
<text transform="translate(384.60,216.90) scale(0.9760,1)" font-size="45.4" text-anchor="start">50</text>
<text transform="translate(427.50,201.60) scale(0.9580,1)" font-size="70" text-anchor="start">: 36.3 μm</text></svg></body></html>
